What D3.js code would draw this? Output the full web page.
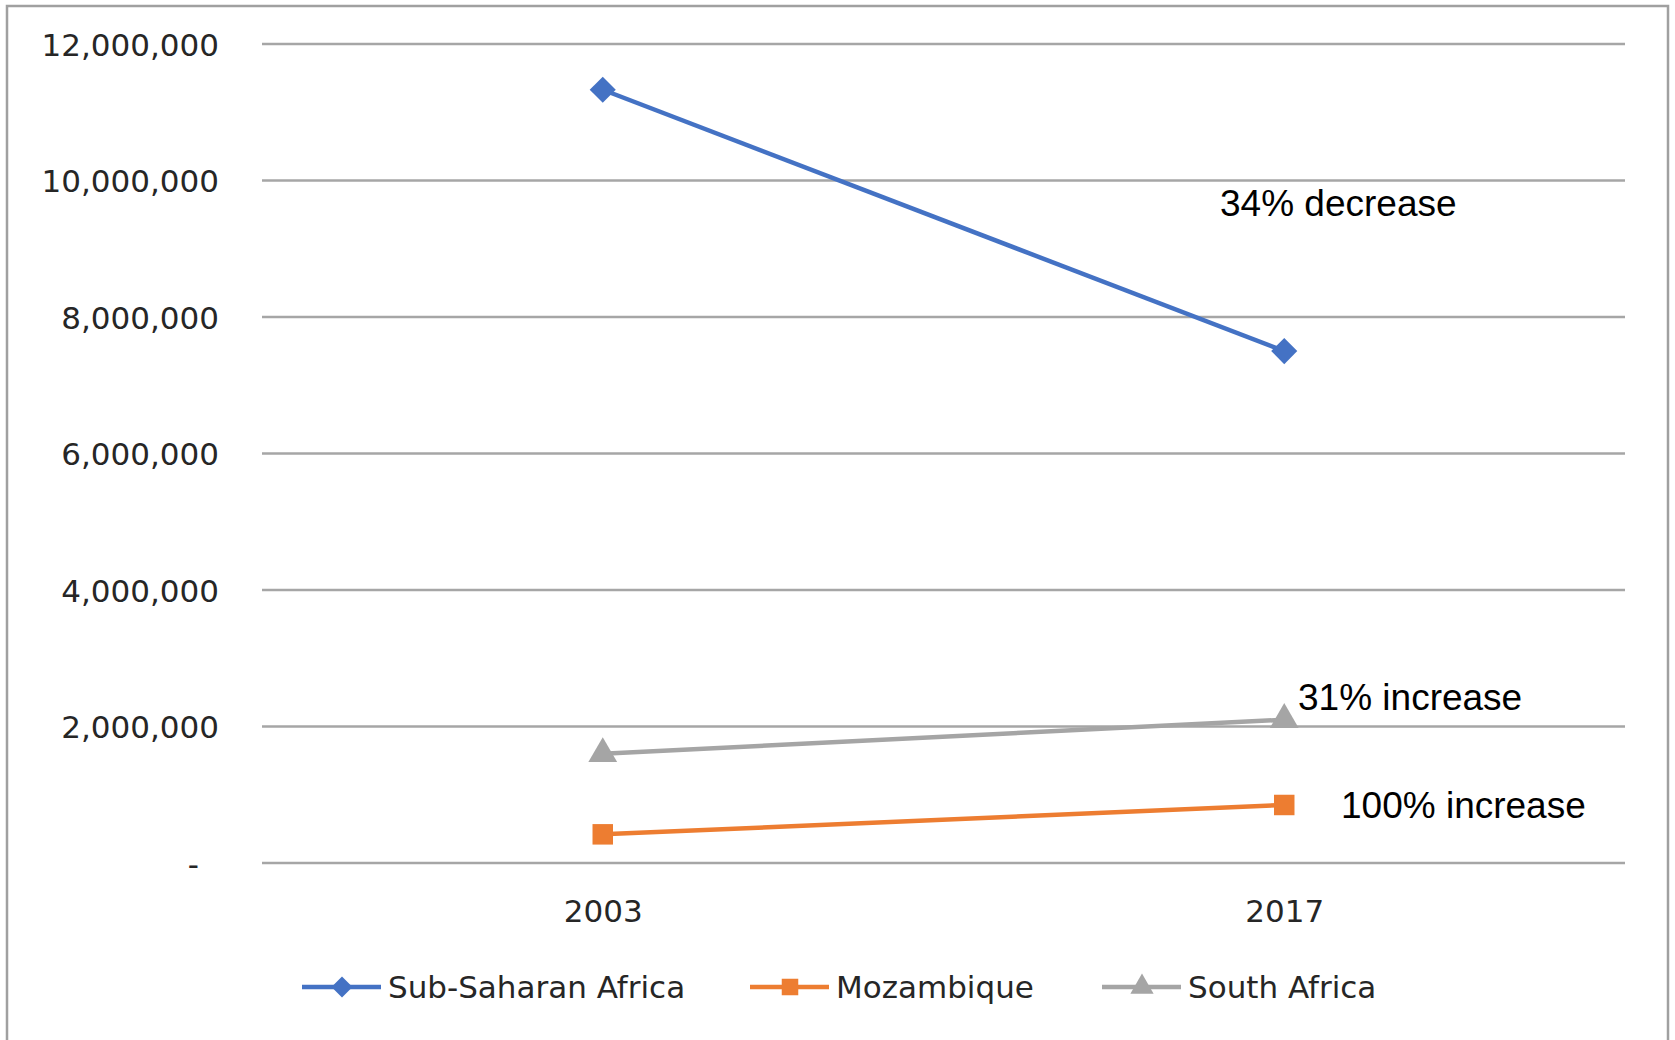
<!DOCTYPE html>
<html>
<head>
<meta charset="utf-8">
<script src="https://d3js.org/d3.v7.min.js"></script>
<style>
    body { margin: 0; background: #fff; }
    svg { display: block; }
</style>
</head>
<body>
<script>
// data
var years      = ["2003", "2017"];
var seriesName = ["Sub-Saharan Africa", "Mozambique", "South Africa"];
var ssaValues  = [11330000, 7500000];
var mozValues  = [420000, 850000];
var rsaValues  = [1600000, 2100000];
var yTicks     = [0, 2000000, 4000000, 6000000, 8000000, 10000000, 12000000];
var notes      = ["34% decrease", "100% increase", "31% increase"];

var width  = 1675;
var height = 1040;
var margin = {top: 44, right: 50, bottom: 177, left: 262};
var colors  = ["#4472c4", "#ed7d31", "#a5a5a5"];
var symbols = [d3.symbolSquare, d3.symbolSquare, d3.symbolTriangle];
var symSize = [340, 420, 360];
var symRot  = [45, 0, 0];
var labelFont = 31;

var series = [ssaValues, mozValues, rsaValues].map(function (vals, i) {
    return {name: seriesName[i], color: colors[i], symbol: symbols[i], size: symSize[i], rot: symRot[i],
            values: vals.map(function (v, j) { return {year: years[j], value: v}; })};
});

var svg = d3.select("body").append("svg")
    .attr("width", width)
    .attr("height", height);

// chart frame
svg.append("rect")
    .attr("x", 7).attr("y", 6)
    .attr("width", 1661).attr("height", 1060)
    .attr("fill", "none")
    .attr("stroke", "#a0a0a0")
    .attr("stroke-width", 2.5);

var x = d3.scalePoint()
    .domain(years)
    .range([margin.left, width - margin.right])
    .padding(0.5);

var y = d3.scaleLinear()
    .domain([0, 12000000])
    .range([height - margin.bottom, margin.top]);

// gridlines
svg.append("g")
    .selectAll("line")
    .data(yTicks)
    .enter()
    .append("line")
    .attr("x1", margin.left)
    .attr("x2", width - margin.right)
    .attr("y1", function (d) { return y(d); })
    .attr("y2", function (d) { return y(d); })
    .attr("stroke", "#a6a6a6")
    .attr("stroke-width", 2.5);

// y axis labels
var yAxis = svg.append("g")
    .attr("transform", "translate(" + (margin.left - 43) + ",0)")
    .call(d3.axisLeft(y).tickValues(yTicks).tickSize(0)
        .tickFormat(function (d) { return d === 0 ? "-" : d3.format(",")(d); }));
yAxis.select(".domain").remove();
yAxis.selectAll("text")
    .attr("x", 0)
    .attr("dy", "0.36em")
    .attr("font-family", "DejaVu Sans")
    .attr("font-size", labelFont)
    .attr("fill", "#262626")
    .attr("dx", function (d) { return d === 0 ? -20 : 0; });

// x axis labels
var xAxis = svg.append("g")
    .attr("transform", "translate(0," + (height - margin.bottom) + ")")
    .call(d3.axisBottom(x).tickSize(0));
xAxis.select(".domain").remove();
xAxis.selectAll("text")
    .attr("y", 59)
    .attr("dy", 0)
    .attr("font-family", "DejaVu Sans")
    .attr("font-size", labelFont)
    .attr("fill", "#262626");

// lines and markers
var line = d3.line()
    .x(function (d) { return x(d.year); })
    .y(function (d) { return y(d.value); });

var sg = svg.append("g")
    .selectAll("g")
    .data(series)
    .enter()
    .append("g");

sg.append("path")
    .attr("d", function (d) { return line(d.values); })
    .attr("fill", "none")
    .attr("stroke", function (d) { return d.color; })
    .attr("stroke-width", 4.5);

sg.selectAll(".pt")
    .data(function (d) { return d.values.map(function (v) { return {s: d, v: v}; }); })
    .enter()
    .append("path")
    .attr("class", "pt")
    .attr("d", function (d) { return d3.symbol().type(d.s.symbol).size(d.s.size)(); })
    .attr("transform", function (d) {
        return "translate(" + x(d.v.year) + "," + y(d.v.value) + ") rotate(" + d.s.rot + ")";
    })
    .attr("fill", function (d) { return d.s.color; });

// annotations
var noteSpots = [[1220, 216], [1341, 818], [1298, 710]];
svg.append("g")
    .selectAll("text")
    .data(notes)
    .enter()
    .append("text")
    .attr("x", function (d, i) { return noteSpots[i][0]; })
    .attr("y", function (d, i) { return noteSpots[i][1]; })
    .attr("font-family", "Liberation Sans")
    .attr("font-size", 37)
    .attr("fill", "#000")
    .text(function (d) { return d; });

// legend
var legendX = [302, 750, 1102];
var lg = svg.append("g")
    .selectAll("g")
    .data(series)
    .enter()
    .append("g")
    .attr("transform", function (d, i) { return "translate(" + legendX[i] + ",987)"; });

lg.append("line")
    .attr("x1", 0).attr("x2", 79)
    .attr("stroke", function (d) { return d.color; })
    .attr("stroke-width", 4.5);

lg.append("path")
    .attr("d", function (d) { return d3.symbol().type(d.symbol).size(d.size * 0.65)(); })
    .attr("transform", function (d) { return "translate(40,0) rotate(" + d.rot + ")"; })
    .attr("fill", function (d) { return d.color; });

lg.append("text")
    .attr("x", 86)
    .attr("dy", "0.36em")
    .attr("font-family", "DejaVu Sans")
    .attr("font-size", labelFont)
    .attr("fill", "#262626")
    .text(function (d) { return d.name; });
</script>
</body>
</html>
